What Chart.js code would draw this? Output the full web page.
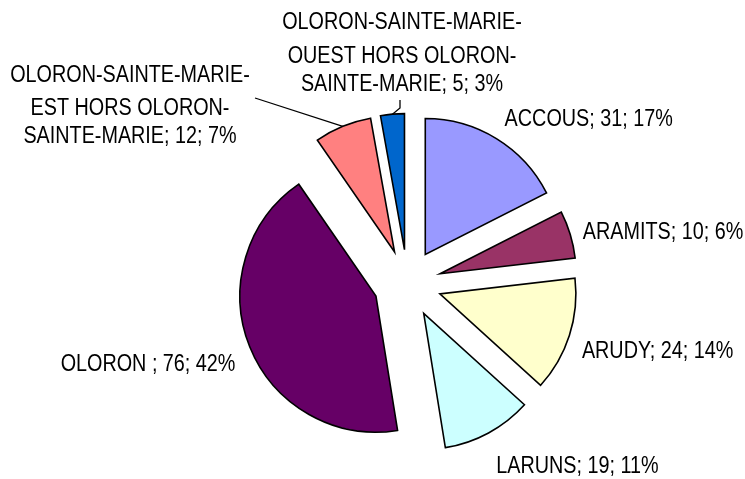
<!DOCTYPE html>
<html>
<head>
<meta charset="utf-8">
<script src="https://cdn.jsdelivr.net/npm/chart.js@4.4.1/dist/chart.umd.min.js"></script>
<style>
  html, body { margin: 0; padding: 0; background: #fff; }
  #wrap { width: 745px; height: 479px; }
</style>
</head>
<body>
<div id="wrap"><canvas id="pie"></canvas></div>
<script>
const categories = [
    'ACCOUS',
    'ARAMITS',
    'ARUDY',
    'LARUNS',
    'OLORON ',
    'OLORON-SAINTE-MARIE-EST HORS OLORON-SAINTE-MARIE',
    'OLORON-SAINTE-MARIE-OUEST HORS OLORON-SAINTE-MARIE'
];
const counts = [31, 10, 24, 19, 76, 12, 5];
const percents = [17, 6, 14, 11, 42, 7, 3];
const sliceColors = ['#9999FF', '#993366', '#FFFFCC', '#CCFFFF', '#660066', '#FF8080', '#0066CC'];

// look of the labels
const explode = 34;
const fontPx = 23;
const squeeze = 0.86;
const wrapWidth = 245;
const lineOffsets = [0, 33.5, 61.5];

// labels that were dragged away from their slice (first baseline, centre x)
const movedLabels = {
    5: { x: 130, y: 81.7, leader: [[255, 98]] },
    6: { x: 402, y: 29.3, leader: [[400, 100], [400, 108]] }
};

function labelText(i) {
    return categories[i] + '; ' + counts[i] + '; ' + percents[i] + '%';
}

function textWidth(ctx, s) {
    return ctx.measureText(s).width * squeeze;
}

function wrapLines(ctx, text) {
    const parts = text.split(/(?<=[- ])/);
    const lines = [];
    let cur = '';
    parts.forEach(p => {
        const test = cur + p;
        if (cur && textWidth(ctx, test.trim()) > wrapWidth) {
            lines.push(cur.trim());
            cur = p;
        } else {
            cur = test;
        }
    });
    if (cur) lines.push(cur.trim());
    return lines;
}

function drawText(ctx, s, x, y, align) {
    const w = textWidth(ctx, s);
    let left = x;
    if (align === 'center') left = x - w / 2;
    if (align === 'right') left = x - w;
    ctx.save();
    ctx.translate(left, y);
    ctx.scale(squeeze, 1);
    ctx.textAlign = 'left';
    ctx.textBaseline = 'alphabetic';
    ctx.fillText(s, 0, 0);
    ctx.restore();
}

const explodePlugin = {
    id: 'explode',
    beforeDatasetDraw(chart, args) {
        const ctx = chart.ctx;
        args.meta.data.forEach(arc => {
            const mid = (arc.startAngle + arc.endAngle) / 2;
            ctx.save();
            ctx.translate(Math.cos(mid) * explode, Math.sin(mid) * explode);
            arc.draw(ctx, chart.chartArea);
            ctx.restore();
        });
        return false;
    }
};

const labelPlugin = {
    id: 'sliceLabels',
    afterDatasetsDraw(chart) {
        const ctx = chart.ctx;
        ctx.save();
        ctx.font = fontPx + 'px "Liberation Sans", Arial, sans-serif';
        ctx.fillStyle = '#000';
        ctx.strokeStyle = '#000';
        ctx.lineWidth = 1.3;
        const capHalf = fontPx * 0.716 / 2;

        chart.getDatasetMeta(0).data.forEach((arc, i) => {
            const mid = (arc.startAngle + arc.endAngle) / 2;
            const dx = Math.cos(mid), dy = Math.sin(mid);
            const vx = arc.x + dx * explode;
            const vy = arc.y + dy * explode;
            const r = arc.outerRadius;
            const moved = movedLabels[i];

            if (moved) {
                const lines = wrapLines(ctx, labelText(i));
                lines.forEach((ln, k) => drawText(ctx, ln, moved.x, moved.y + lineOffsets[k], 'center'));
                ctx.beginPath();
                moved.leader.forEach((p, k) => k ? ctx.lineTo(p[0], p[1]) : ctx.moveTo(p[0], p[1]));
                ctx.lineTo(vx + dx * r, vy + dy * r);
                ctx.stroke();
                return;
            }

            const ax = vx + dx * (r + 10);
            const ay = vy + dy * (r + 10);
            const cy = ay + dy * 20 + 5;
            if (dx >= 0) {
                drawText(ctx, labelText(i), ax + 3, cy + capHalf, 'left');
            } else {
                drawText(ctx, labelText(i), ax - 5, cy + capHalf, 'right');
            }
        });
        ctx.restore();
    }
};

const ctx = document.getElementById('pie').getContext('2d');
new Chart(ctx, {
    type: 'pie',
    data: {
        labels: categories,
        datasets: [{
            data: counts,
            backgroundColor: sliceColors,
            borderColor: '#000',
            borderWidth: 1.6,
            borderJoinStyle: 'miter',
            radius: 136
        }]
    },
    options: {
        responsive: true,
        maintainAspectRatio: false,
        animation: false,
        events: [],
        layout: { padding: { left: 70, right: 0, top: 88, bottom: 0 } },
        plugins: {
            legend: { display: false },
            tooltip: { enabled: false },
            title: { display: false }
        }
    },
    plugins: [explodePlugin, labelPlugin]
});
</script>
</body>
</html>
